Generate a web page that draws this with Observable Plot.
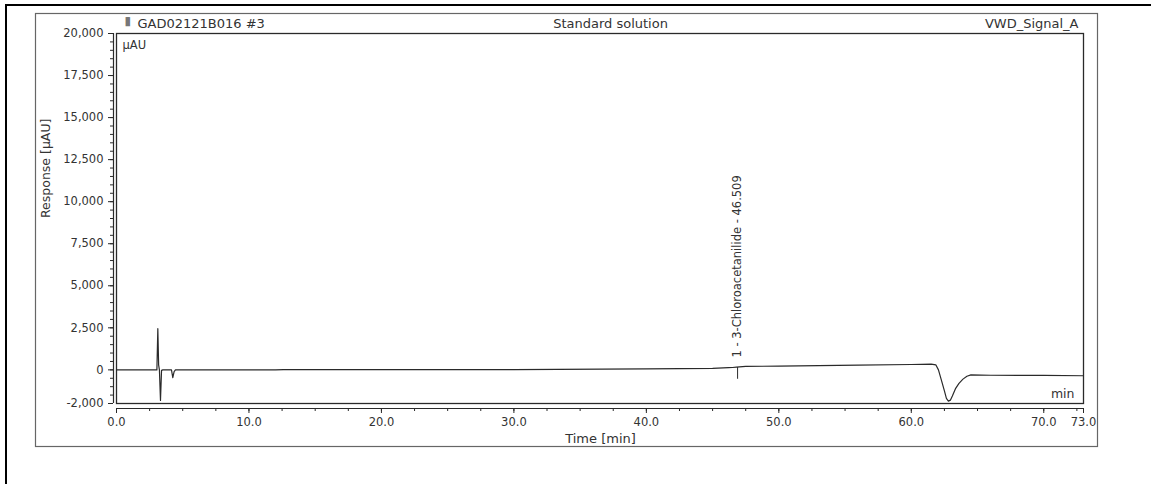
<!DOCTYPE html>
<html><head><meta charset="utf-8">
<script src="https://cdn.jsdelivr.net/npm/d3@7"></script>
<script src="https://cdn.jsdelivr.net/npm/@observablehq/plot@0.6"></script>
<style>
body{margin:0;background:#fff;}
#wrap{position:relative;width:1151px;height:484px;overflow:hidden;background:#fff;}
#border{position:absolute;left:5px;top:4px;width:1160px;height:500px;border-left:2px solid #000;border-top:2px solid #000;}
#chart{position:absolute;left:0;top:0;}
</style></head><body>
<div id="wrap"><div id="border"></div><div id="chart"></div></div>
<script>
// Chromatogram trace (time in min, response in µAU)
const time = [0, 2.9, 3.05, 3.12, 3.18, 3.24, 3.32, 3.4, 3.5, 4.15, 4.25, 4.35, 4.45, 8, 12, 12.6, 20, 30, 40, 45, 46.2, 46.5, 46.8, 47.5, 50, 53, 56, 60, 61.5, 61.85, 62.05, 62.25, 62.5, 62.65, 62.8, 62.95, 63.1, 63.35, 63.6, 63.9, 64.2, 64.5, 66, 70, 73];
const response = [0, 0, 0, 2450, 300, 0, -1820, -30, 0, 0, -460, -100, 0, 0, 0, 20, 20, 10, 60, 90, 130, 140, 160, 210, 220, 250, 280, 320, 340, 300, 0, -550, -1250, -1700, -1860, -1800, -1550, -1100, -800, -550, -380, -300, -320, -330, -350];

// Peak annotation
const peakTimes = [46.509];
const peakLevels = [140];
const peakMarkBottoms = [-560];
const peakLabels = ["1 - 3-Chloroacetanilide - 46.509"];

// Axes
const xDomain = [0, 73];
const yDomain = [-2000, 20000];
const xTicks = [0, 10, 20, 30, 40, 50, 60, 70, 73];
const xMinorTicks = d3.range(0, 73, 2.5);
const yTicks = [-2000, 0, 2500, 5000, 7500, 10000, 12500, 15000, 17500, 20000];
const yMinorTicks = d3.range(-2000, 20001, 500);

// Header texts
const injectionName = ["GAD02121B016 #3"];
const sampleName = ["Standard solution"];
const signalName = ["VWD_Signal_A"];
const yUnit = ["µAU"];
const xUnit = ["min"];
const yTitle = ["Response [µAU]"];
const xTitle = ["Time [min]"];

const data = time.map((t, i) => ({t, r: response[i]}));
const peaks = peakTimes.map((t, i) => ({t, r: peakLevels[i], b: peakMarkBottoms[i], label: peakLabels[i]}));

const ink = "#2a2a2a";
const txt = "#333";
const yFmt = d => d3.format(",")(d).replace("\u2212", "-");

const plot = Plot.plot({
  width: 1151,
  height: 484,
  marginLeft: 113,
  marginRight: 68,
  marginTop: 33,
  marginBottom: 76,
  style: {fontFamily: "DejaVu Sans", fontSize: "11.5px", color: txt, background: "transparent", overflow: "visible"},
  x: {domain: xDomain, insetLeft: 3, label: null},
  y: {domain: yDomain, insetBottom: 5, label: null},
  marks: [
    // outer report box
    Plot.frame({stroke: "#666", strokeWidth: 1.2, insetLeft: -78, insetTop: -20, insetRight: -14, insetBottom: -38}),
    // plot frame
    Plot.frame({stroke: ink, strokeWidth: 1.3, insetLeft: 3, insetBottom: 5}),
    // axis lines
    Plot.ruleY([yDomain[0]], {x1: xDomain[0], x2: xDomain[1], dy: 5, stroke: ink, strokeWidth: 1.2}),
    Plot.ruleX([xDomain[0]], {y1: yDomain[0], y2: yDomain[1], dx: -3, stroke: ink, strokeWidth: 1.2}),
    // y axis
    Plot.axisY({ticks: yMinorTicks, tickSize: 3, tickFormat: () => "", label: null, stroke: ink}),
    Plot.axisY({ticks: yTicks, tickSize: 5, tickPadding: 5, tickFormat: yFmt, label: null, stroke: ink, fontSize: 11.5}),
    // x axis
    Plot.axisX({ticks: xMinorTicks, tickSize: 3, tickFormat: () => "", label: null, stroke: ink}),
    Plot.axisX({ticks: xTicks, tickSize: 5, tickPadding: 4, tickFormat: d3.format(".1f"), label: null, stroke: ink, fontSize: 11.5}),
    // trace
    Plot.line(data, {x: "t", y: "r", stroke: ink, strokeWidth: 1.2}),
    // peak annotation
    Plot.ruleX(peaks, {x: "t", y1: "r", y2: "b", dx: 5, stroke: ink, strokeWidth: 1}),
    Plot.text(peaks, {x: "t", y: "r", text: "label", rotate: -90, textAnchor: "start", lineAnchor: "middle", dx: 5, dy: -10, fontSize: 11.5, fill: txt}),
    // header
    Plot.text(["▮"], {frameAnchor: "top-left", lineAnchor: "middle", dx: 11, dy: -12, fontSize: 12, fill: "#777"}),
    Plot.text(injectionName, {frameAnchor: "top-left", textAnchor: "start", lineAnchor: "middle", dx: 24, dy: -10, fontSize: 13, fill: txt}),
    Plot.text(sampleName, {frameAnchor: "top", lineAnchor: "middle", dx: 12, dy: -10, fontSize: 13, fill: txt}),
    Plot.text(signalName, {frameAnchor: "top-right", textAnchor: "end", lineAnchor: "middle", dx: -5, dy: -10, fontSize: 13, fill: txt}),
    // units and titles
    Plot.text(yUnit, {frameAnchor: "top-left", textAnchor: "start", lineAnchor: "middle", dx: 9, dy: 12, fontSize: 11.5, fill: txt}),
    Plot.text(xUnit, {frameAnchor: "bottom-right", textAnchor: "end", lineAnchor: "middle", dx: -9, dy: -15, fontSize: 12.5, fill: txt}),
    Plot.text(yTitle, {frameAnchor: "left", rotate: -90, lineAnchor: "middle", dx: -68, dy: -3, fontSize: 12.5, fill: txt}),
    Plot.text(xTitle, {frameAnchor: "bottom", lineAnchor: "middle", dx: 2, dy: 30, fontSize: 13, fill: txt})
  ]
});
document.getElementById("chart").appendChild(plot);
</script>
</body></html>
